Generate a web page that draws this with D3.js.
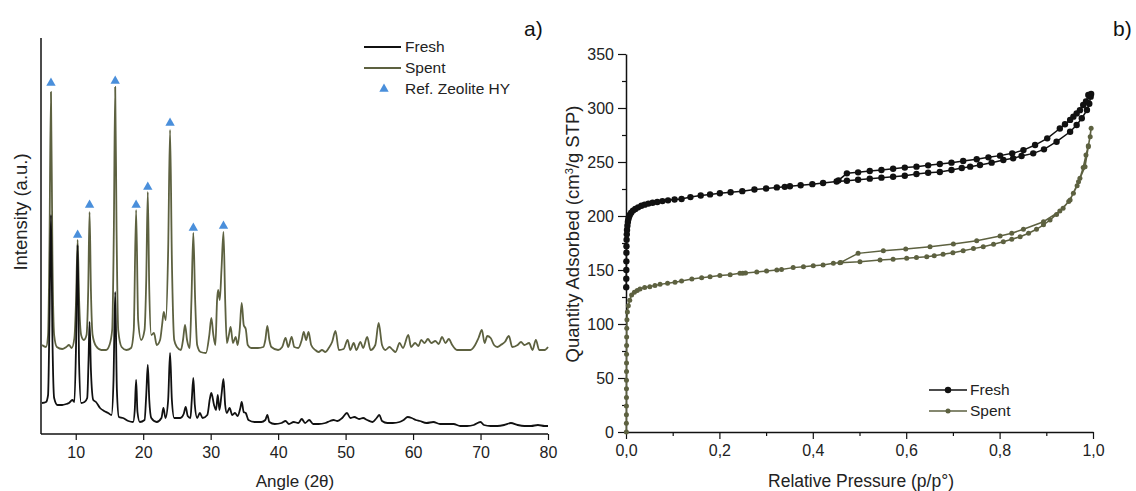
<!DOCTYPE html>
<html>
<head>
<meta charset="utf-8">
<script src="https://cdn.jsdelivr.net/npm/d3@7"></script>
<style>
  body { margin: 0; background: #fff; }
  svg { display: block; font-family: "Liberation Sans", Arial, sans-serif; }
  .axis path, .axis line { stroke: #111; }
  .axis text { fill: #222; font-size: 16px; font-family: "Liberation Sans", Arial, sans-serif; }
</style>
</head>
<body>
<svg id="chart" width="1136" height="491"></svg>
<script>
// ---- a) XRD patterns: [angle 2theta, intensity a.u.] ----
const freshXrd = [
  [5.0, 31], [5.6, 32], [5.9, 39], [6.1, 110], [6.33, 219], [6.55, 94], [6.8, 36], [7.3, 29], [8.0, 29],
  [8.6, 30], [9.0, 31], [9.5, 34], [9.8, 32], [10.05, 90], [10.28, 189], [10.5, 70], [10.8, 31],
  [11.3, 32], [11.7, 36], [11.9, 74], [12.05, 112], [12.25, 64], [12.6, 34], [13.0, 32], [13.6, 26],
  [14.2, 23], [14.8, 21], [15.3, 19], [15.6, 54], [15.85, 142], [16.1, 44], [16.4, 17], [17.0, 16],
  [17.8, 13], [18.5, 12], [18.75, 24], [18.95, 54], [19.15, 22], [19.5, 12], [20.2, 14], [20.45, 39],
  [20.68, 69], [20.9, 34], [21.2, 16], [22.0, 12], [22.7, 16], [23.0, 26], [23.3, 16], [23.7, 34],
  [23.98, 81], [24.25, 34], [24.6, 16], [25.5, 16], [26.0, 20], [26.3, 27], [26.6, 18], [27.0, 16],
  [27.2, 34], [27.43, 56], [27.65, 29], [28.0, 16], [28.4, 21], [28.8, 16], [29.5, 19], [29.9, 36],
  [30.1, 41], [30.5, 29], [30.8, 24], [31.05, 39], [31.3, 24], [31.6, 39], [31.9, 55], [32.15, 29],
  [32.4, 21], [32.8, 26], [33.2, 19], [33.6, 21], [34.0, 18], [34.4, 26], [34.6, 32], [34.9, 22],
  [35.2, 21], [35.6, 14], [36.5, 12], [37.5, 12], [38.1, 14], [38.4, 19], [38.7, 12], [39.5, 10],
  [40.5, 11], [41.1, 13], [41.6, 10], [42.3, 12], [43.0, 11], [43.5, 15], [44.0, 11], [44.6, 14],
  [45.2, 10], [46.0, 10], [47.0, 11], [47.7, 13], [48.2, 14], [48.8, 13], [49.5, 16], [50.2, 21],
  [50.7, 16], [51.3, 17], [52.0, 15], [52.6, 16], [53.2, 14], [54.0, 12], [54.6, 16], [55.0, 19],
  [55.4, 13], [56.2, 11], [57.0, 11], [58.0, 12], [58.6, 14], [59.2, 17], [59.8, 16], [60.4, 14],
  [61.0, 13], [62.0, 11], [63.0, 12], [64.0, 10], [65.0, 10], [66.0, 10], [67.0, 8], [68.0, 8],
  [69.0, 9], [70.0, 12], [70.5, 9], [71.5, 8], [72.5, 8], [73.5, 9], [74.5, 11], [75.5, 9],
  [76.5, 8], [77.5, 8], [78.5, 9], [79.5, 8], [80.0, 8]
];

const spentXrd = [
  [5.0, 89], [5.6, 87], [5.9, 99], [6.1, 184], [6.33, 342], [6.55, 174], [6.8, 99], [7.2, 87], [8.0, 85],
  [8.6, 87], [9.0, 89], [9.4, 86], [9.8, 96], [10.05, 134], [10.28, 194], [10.5, 134], [10.8, 99],
  [11.2, 94], [11.6, 99], [11.85, 144], [12.05, 222], [12.25, 144], [12.5, 99], [13.0, 88], [13.8, 84],
  [14.5, 84], [15.0, 89], [15.4, 104], [15.65, 204], [15.85, 347], [16.05, 204], [16.3, 104], [16.8, 87],
  [17.5, 84], [18.2, 86], [18.6, 104], [18.95, 224], [19.25, 114], [19.7, 94], [20.2, 104], [20.45, 154],
  [20.68, 242], [20.9, 144], [21.2, 99], [21.6, 101], [22.0, 89], [22.5, 94], [22.8, 109], [23.05, 122],
  [23.35, 114], [23.7, 184], [23.98, 304], [24.25, 174], [24.6, 94], [25.0, 87], [25.6, 84], [25.9, 94],
  [26.2, 109], [26.5, 94], [26.9, 86], [27.15, 134], [27.43, 201], [27.7, 134], [28.0, 89], [28.5, 82],
  [29.3, 81], [29.8, 99], [30.1, 116], [30.4, 99], [30.7, 89], [30.95, 134], [31.1, 144], [31.35, 134],
  [31.6, 164], [31.9, 202], [32.15, 134], [32.4, 91], [32.7, 99], [32.96, 107], [33.3, 91], [33.7, 97],
  [34.0, 89], [34.3, 104], [34.6, 131], [34.9, 109], [35.2, 105], [35.5, 89], [36.0, 86], [37.0, 86],
  [37.8, 87], [38.1, 94], [38.4, 108], [38.7, 94], [39.0, 87], [40.0, 84], [40.6, 87], [41.1, 96],
  [41.5, 87], [42.0, 97], [42.4, 87], [43.0, 86], [43.5, 94], [43.8, 102], [44.15, 94], [44.5, 102],
  [44.9, 89], [45.5, 84], [46.0, 82], [46.5, 84], [47.0, 82], [47.5, 86], [48.0, 92], [48.5, 103],
  [49.0, 84], [49.7, 85], [50.3, 94], [50.7, 84], [51.2, 91], [51.6, 84], [52.2, 92], [52.6, 86],
  [53.2, 97], [53.7, 84], [54.4, 89], [54.9, 111], [55.4, 89], [55.9, 84], [56.5, 87], [57.0, 84],
  [57.4, 82], [58.0, 91], [58.5, 86], [59.3, 99], [59.7, 87], [60.3, 91], [60.8, 88], [61.2, 94],
  [61.7, 91], [62.2, 95], [62.7, 91], [63.3, 93], [63.8, 90], [64.3, 97], [64.8, 91], [65.3, 95],
  [65.8, 89], [66.5, 84], [67.5, 84], [68.5, 84], [69.2, 89], [69.7, 96], [70.2, 104], [70.6, 91],
  [71.0, 98], [71.5, 96], [72.0, 89], [72.5, 87], [73.0, 89], [73.6, 92], [74.2, 98], [74.7, 87],
  [75.5, 89], [76.0, 92], [76.5, 89], [77.2, 91], [77.7, 84], [78.2, 94], [78.7, 84], [79.5, 84],
  [80.0, 87]
];

// reference zeolite HY reflections (marker drawn just above the spent peak)
const refAngles = [6.33, 10.28, 12.05, 15.85, 18.95, 20.68, 23.98, 27.43, 31.9];
const refMarkY = [351, 199, 229, 353, 229, 247, 311, 206, 208];
const angleTicks = [10, 20, 30, 40, 50, 60, 70, 80];

// ---- b) N2 isotherms: [p/p0, cm3/g STP], adsorption then desorption ----
const freshIso = [
  [0.0005, 134], [0.0006, 142], [0.0007, 150], [0.0008, 158], [0.0009, 166], [0.001, 172], [0.0013, 178],
  [0.0017, 183], [0.0022, 187], [0.003, 191], [0.004, 194.5], [0.005, 197], [0.0065, 199.4], [0.008, 201],
  [0.011, 203], [0.015, 205], [0.02, 206.5], [0.026, 208], [0.033, 209.5], [0.04, 210.5], [0.048, 211.5],
  [0.057, 212.3], [0.067, 213], [0.078, 213.8], [0.09, 214.5], [0.104, 215.3], [0.119, 215.8],
  [0.138, 217.5], [0.16, 219], [0.18, 220], [0.201, 221], [0.224, 222], [0.249, 223], [0.275, 224.5],
  [0.3, 225.5], [0.323, 226.5], [0.34, 227], [0.351, 227.5], [0.374, 228.5], [0.399, 229.5],
  [0.422, 230.5], [0.451, 232], [0.473, 232.7], [0.497, 233.6], [0.522, 234.6], [0.547, 235.5],
  [0.572, 236.4], [0.597, 237.3], [0.622, 238.9], [0.647, 240.1], [0.672, 240.7], [0.697, 242.6],
  [0.719, 244.4], [0.737, 245.7], [0.758, 247.2], [0.783, 249.4], [0.808, 251.9], [0.829, 253.4],
  [0.847, 255.6], [0.872, 258], [0.895, 261.7], [0.922, 268.8], [0.951, 278], [0.965, 284.3],
  [0.976, 290.5], [0.987, 298.1], [0.992, 304], [0.995, 310.5], [0.996, 313],
  [0.99, 312], [0.985, 306], [0.979, 302.8], [0.972, 298], [0.965, 295], [0.958, 292], [0.951, 289],
  [0.94, 285], [0.929, 281], [0.902, 271.9], [0.876, 265.7], [0.851, 261], [0.827, 258], [0.801, 255.9],
  [0.776, 254.3], [0.751, 252.5], [0.722, 250.9], [0.697, 249.4], [0.672, 248.1], [0.647, 246.9],
  [0.622, 245.7], [0.597, 244.8], [0.572, 243.8], [0.547, 242.6], [0.522, 241.7], [0.497, 240.4],
  [0.473, 239.5], [0.455, 233]
];

const spentIso = [
  [0.0008, 0], [0.0008, 8], [0.0009, 16], [0.0009, 24], [0.001, 32], [0.001, 40], [0.001, 48],
  [0.0011, 56], [0.0011, 64], [0.0012, 72], [0.0013, 80], [0.0014, 88], [0.0016, 96], [0.002, 104],
  [0.003, 111], [0.005, 117], [0.008, 122], [0.012, 126.8], [0.018, 129.5], [0.024, 131], [0.03, 132.5],
  [0.04, 133.8], [0.051, 134.6], [0.062, 135.7], [0.073, 136.7], [0.089, 137.7], [0.105, 138.6],
  [0.119, 139.8], [0.141, 141.7], [0.162, 142.9], [0.18, 143.8], [0.201, 144.8], [0.223, 145.7],
  [0.244, 146.9], [0.25, 147.1], [0.256, 147.3], [0.28, 148.1], [0.301, 149.1], [0.323, 150],
  [0.333, 150.5], [0.358, 152.2], [0.38, 153.1], [0.401, 154], [0.422, 154.6], [0.444, 156.2],
  [0.458, 156.8], [0.501, 157.7], [0.544, 159.3], [0.572, 160], [0.601, 160.8], [0.622, 161.5],
  [0.644, 162.3], [0.66, 163.2], [0.679, 164.5], [0.7, 166], [0.722, 167.9], [0.744, 169.8],
  [0.765, 171.6], [0.787, 173.8], [0.808, 176.2], [0.826, 178.5], [0.844, 180.8], [0.862, 184],
  [0.879, 187.7], [0.894, 191.8], [0.908, 196.3], [0.922, 201.5], [0.936, 207.1], [0.948, 213.5],
  [0.958, 221], [0.966, 228], [0.972, 234.9], [0.979, 245], [0.985, 256.5], [0.99, 265], [0.994, 273.4],
  [0.996, 281.2],
  [0.99, 264.2], [0.983, 245.7], [0.969, 231.8], [0.951, 214.8], [0.929, 204.6], [0.894, 194.7],
  [0.851, 187.7], [0.826, 184], [0.801, 181.5], [0.751, 177.1], [0.701, 174], [0.651, 171.6],
  [0.599, 169.4], [0.551, 167.9], [0.497, 165.4], [0.46, 157]
];

const pressureTicks = [0, 0.2, 0.4, 0.6, 0.8, 1.0];
const pressureMinor = [0.1, 0.3, 0.5, 0.7, 0.9];
const quantityTicks = [0, 50, 100, 150, 200, 250, 300, 350];
const quantityMinor = [25, 75, 125, 175, 225, 275, 325];

const freshColor = '#111111';
const spentColor = '#5d6140';
const refColor = '#4a8fdb';

var svg = d3.select('#chart');

// ---------- panel a ----------
var xA = d3.scaleLinear().domain([5, 80]).range([42, 548]);
var yA = d3.scaleLinear().domain([0, 396]).range([434, 38]);

var gA = svg.append('g');

gA.append('line')
  .attr('x1', 41).attr('x2', 41).attr('y1', yA.range()[1]).attr('y2', yA.range()[0])
  .attr('stroke', '#111').attr('stroke-width', 1.5);

gA.append('g')
  .attr('class', 'axis')
  .attr('transform', 'translate(0,434)')
  .call(d3.axisBottom(xA).tickValues(angleTicks).tickSize(6).tickSizeOuter(0).tickPadding(7))
  .call(g => g.select('.domain').attr('d', 'M41,0H548').attr('stroke-width', 1.5))
  .call(g => g.selectAll('.tick line').attr('stroke-width', 1.2));

var xrdLine = d3.line()
  .x(d => xA(d[0]))
  .y(d => yA(d[1]))
  .curve(d3.curveMonotoneX);

gA.append('path').datum(spentXrd)
  .attr('d', xrdLine).attr('fill', 'none')
  .attr('stroke', spentColor).attr('stroke-width', 1.8).attr('stroke-linejoin', 'round');

gA.append('path').datum(freshXrd)
  .attr('d', xrdLine).attr('fill', 'none')
  .attr('stroke', freshColor).attr('stroke-width', 1.8).attr('stroke-linejoin', 'round');

var triangle = d3.symbol(d3.symbolTriangle).size(38);
gA.selectAll('.ref').data(refAngles).join('path')
  .attr('class', 'ref')
  .attr('d', triangle)
  .attr('transform', (d, i) => `translate(${xA(d)},${yA(refMarkY[i])})`)
  .attr('fill', refColor);

gA.append('text')
  .attr('transform', 'translate(27,212) rotate(-90)')
  .attr('text-anchor', 'middle')
  .attr('font-size', 18.5).attr('fill', '#222')
  .text('Intensity (a.u.)');

gA.append('text')
  .attr('x', 295).attr('y', 487)
  .attr('text-anchor', 'middle')
  .attr('font-size', 17).attr('fill', '#222')
  .text('Angle (2θ)');

// legend a
var legA = gA.append('g').attr('font-size', 15.5).attr('fill', '#222');
[['Fresh', freshColor, 47], ['Spent', spentColor, 68]].forEach(([name, color, y]) => {
  legA.append('line').attr('x1', 364).attr('x2', 401).attr('y1', y).attr('y2', y)
    .attr('stroke', color).attr('stroke-width', 1.8);
  legA.append('text').attr('x', 405).attr('y', y + 5).attr('fill', '#222').text(name);
});
legA.append('path').attr('d', triangle).attr('transform', 'translate(384,89)').attr('fill', refColor);
legA.append('text').attr('x', 405).attr('y', 94).attr('fill', '#222').text('Ref. Zeolite HY');

svg.append('text').attr('x', 524).attr('y', 36).attr('font-size', 21).attr('fill', '#111').text('a)');

// ---------- panel b ----------
var xB = d3.scaleLinear().domain([0, 1]).range([626, 1093]);
var yB = d3.scaleLinear().domain([0, 350]).range([432, 54]);
var fmtComma = d => d3.format('.1f')(d).replace('.', ',');

var gB = svg.append('g');

gB.append('g').attr('class', 'axis')
  .attr('transform', 'translate(0,432)')
  .call(d3.axisBottom(xB).tickValues(pressureMinor).tickSize(4).tickFormat(''))
  .call(g => g.select('.domain').remove());
gB.append('g').attr('class', 'axis')
  .attr('transform', 'translate(0,432)')
  .call(d3.axisBottom(xB).tickValues(pressureTicks).tickSize(7).tickSizeOuter(0).tickPadding(6).tickFormat(fmtComma))
  .call(g => g.select('.domain').attr('stroke-width', 1.5));

gB.append('g').attr('class', 'axis')
  .attr('transform', 'translate(626,0)')
  .call(d3.axisLeft(yB).tickValues(quantityMinor).tickSize(4).tickFormat(''))
  .call(g => g.select('.domain').remove());
gB.append('g').attr('class', 'axis')
  .attr('transform', 'translate(626,0)')
  .call(d3.axisLeft(yB).tickValues(quantityTicks).tickSize(8).tickSizeOuter(0).tickPadding(4))
  .call(g => g.select('.domain').attr('stroke-width', 1.5));

gB.selectAll('.tick line').attr('stroke-width', 1.2);

var isoLine = d3.line().x(d => xB(d[0])).y(d => yB(d[1]));

function drawIsotherm(data, color, r) {
  gB.append('path').datum(data)
    .attr('d', isoLine).attr('fill', 'none')
    .attr('stroke', color).attr('stroke-width', 1.5);
  gB.append('g').selectAll('circle').data(data).join('circle')
    .attr('cx', d => xB(d[0])).attr('cy', d => yB(d[1]))
    .attr('r', r).attr('fill', color);
}

drawIsotherm(spentIso, spentColor, 2.5);
drawIsotherm(freshIso, freshColor, 3.2);

gB.append('text')
  .attr('transform', 'translate(579,234) rotate(-90)')
  .attr('text-anchor', 'middle')
  .attr('font-size', 18.5).attr('fill', '#222')
  .html('Quantity Adsorbed (cm<tspan baseline-shift="super" font-size="11">3</tspan>/g STP)');

gB.append('text')
  .attr('x', 861).attr('y', 487)
  .attr('text-anchor', 'middle')
  .attr('font-size', 17.5).attr('fill', '#222')
  .text('Relative Pressure (p/p°)');

// legend b
var legB = gB.append('g');
[['Fresh', freshColor, 390, 3.2], ['Spent', spentColor, 411, 2.5]].forEach(([name, color, y, r]) => {
  legB.append('line').attr('x1', 929).attr('x2', 967).attr('y1', y).attr('y2', y)
    .attr('stroke', color).attr('stroke-width', 1.5);
  legB.append('circle').attr('cx', 948).attr('cy', y).attr('r', r).attr('fill', color);
  legB.append('text').attr('x', 970).attr('y', y + 5).attr('font-size', 15.5).attr('fill', '#222').text(name);
});

svg.append('text').attr('x', 1113).attr('y', 36).attr('font-size', 21).attr('fill', '#111').text('b)');
</script>
</body>
</html>
